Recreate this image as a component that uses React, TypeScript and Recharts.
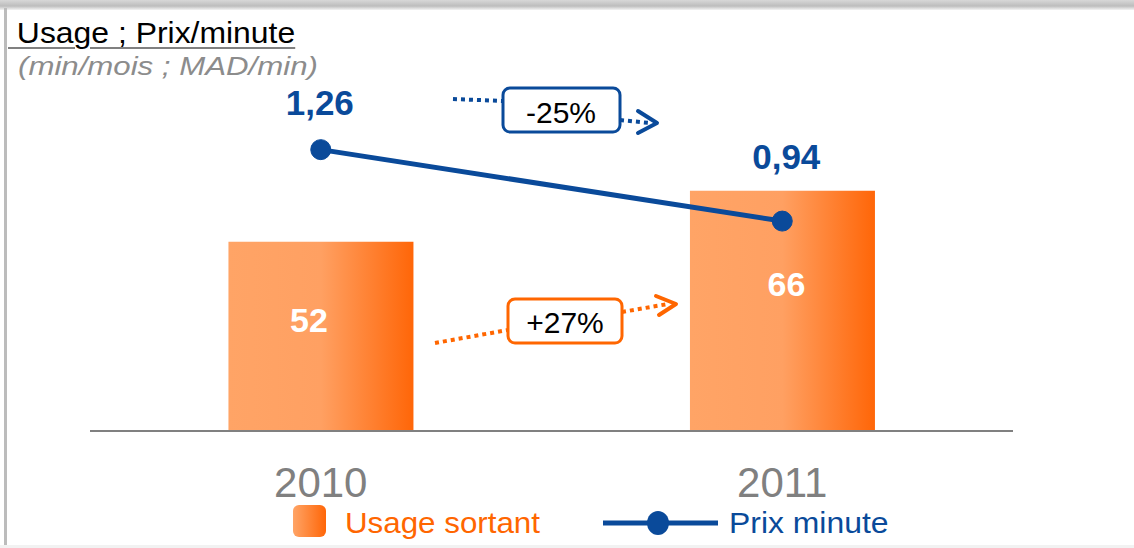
import React from "react"
import { Bar, ComposedChart, Line, XAxis, YAxis } from "recharts"

const years = ["2010", "2011"]
const usageSortant = [52, 66]
const prixMinute = [1.26, 0.94]
const prixLabels = ["1,26", "0,94"]

const rows = years.map((year, i) => ({ year, usage: usageSortant[i], prix: prixMinute[i], prixLabel: prixLabels[i] }))

const BLUE = "#0A4A9A"
const ORANGE = "#FF6600"
const FONT = "'Liberation Sans', Arial, sans-serif"

// small nudges so the value labels sit where the original slide put them
const barLabelNudge = [
  { dx: -12, dy: 90 },
  { dx: 4, dy: 105 },
]
const prixLabelNudge = [
  { dx: -1, dy: -35 },
  { dx: 4, dy: -52 },
]

function BarValue(props: any) {
  const { x, y, width, value, index } = props
  const n = barLabelNudge[index] || { dx: 0, dy: 0 }
  return (
    <text x={x + width / 2 + n.dx} y={y + n.dy} textAnchor="middle" fill="#fff" fontFamily={FONT} fontWeight="bold" fontSize={34}>
      {value}
    </text>
  )
}

function PrixValue(props: any) {
  const { x, y, index } = props
  const n = prixLabelNudge[index] || { dx: 0, dy: 0 }
  return (
    <text x={x + n.dx} y={y + n.dy} textAnchor="middle" fill={BLUE} fontFamily={FONT} fontWeight="bold" fontSize={35}>
      {prixLabels[index]}
    </text>
  )
}

function YearTick(props: any) {
  const { x, payload } = props
  return (
    <text x={x} y={497} textAnchor="middle" fill="#808080" fontFamily={FONT} fontSize={42}>
      {payload.value}
    </text>
  )
}

function Annotations() {
  return (
    <svg width={1134} height={548} style={{ position: "absolute", left: 0, top: 0, pointerEvents: "none" }}>
      {/* -25% */}
      <g stroke={BLUE} strokeWidth={4} fill="none">
        <line x1={453} y1={99} x2={503} y2={101} strokeDasharray="4 4" />
        <line x1={620} y1={120} x2={650} y2={123} strokeDasharray="4 4" />
        <polyline points="638,111 657,123 638,133" strokeLinecap="round" strokeLinejoin="round" />
        <rect x={503} y={88} width={117} height={44} rx={7} fill="#fff" strokeWidth={3} />
      </g>
      <text x={561} y={123} textAnchor="middle" fontFamily={FONT} fontSize={30} fill="#000">-25%</text>
      {/* +27% */}
      <g stroke={ORANGE} strokeWidth={4} fill="none">
        <line x1={435} y1={343} x2={508} y2={330} strokeDasharray="4 4" />
        <line x1={622} y1={312} x2={668} y2={304} strokeDasharray="4 4" />
        <polyline points="656,296 676,304 659,315" strokeLinecap="round" strokeLinejoin="round" />
        <rect x={508} y={299} width={114} height={44} rx={7} fill="#fff" strokeWidth={3} />
      </g>
      <text x={565} y={333} textAnchor="middle" fontFamily={FONT} fontSize={30} fill="#000">+27%</text>
    </svg>
  )
}

const stretched = (sx: number): React.CSSProperties => ({
  position: "absolute",
  whiteSpace: "pre",
  transform: `scaleX(${sx})`,
  transformOrigin: "left center",
})

export default function App() {
  return (
    <div style={{ position: "absolute", left: 0, top: 0, width: 1134, height: 548, background: "#fff", overflow: "hidden", fontFamily: FONT }}>
      <svg width={1134} height={548} style={{ position: "absolute", left: 0, top: 0 }}>
        <defs>
          <linearGradient id="topShade" x1="0" y1="0" x2="0" y2="1">
            <stop offset="0%" stopColor="#d8d8d8" />
            <stop offset="60%" stopColor="#bdbdbd" />
            <stop offset="100%" stopColor="#f4f4f4" />
          </linearGradient>
        </defs>
        <rect x={0} y={0} width={1134} height={10} fill="url(#topShade)" />
        <rect x={4} y={8} width={3} height={540} fill="#bcbcbc" />
        <rect x={0} y={545} width={1134} height={3} fill="#f2f2f2" />
      </svg>

      <div style={{ ...stretched(1.1), left: 8, top: 17, fontSize: 29, color: "#000", textDecoration: "underline", textDecorationColor: "#808080", textDecorationThickness: 2, textUnderlineOffset: 4 }}>
        {" Usage ; Prix/minute"}
      </div>
      <div style={{ ...stretched(1.2), left: 18, top: 51, fontSize: 26, color: "#8c8c8c", fontStyle: "italic" }}>
        (min/mois ; MAD/min)
      </div>

      <div style={{ position: "absolute", left: 0, top: 0 }}>
        <ComposedChart width={1134} height={548} data={rows} margin={{ top: 67, right: 121, bottom: 0, left: 90 }} barCategoryGap="30%">
          <defs>
            <linearGradient id="barGrad" x1="0" y1="0" x2="1" y2="0">
              <stop offset="0%" stopColor="#FFA466" />
              <stop offset="50%" stopColor="#FFA062" />
              <stop offset="100%" stopColor="#FF6608" />
            </linearGradient>
          </defs>
          <XAxis dataKey="year" height={117} tickLine={false} axisLine={{ stroke: "#808080", strokeWidth: 2 }} tick={<YearTick />} interval={0} />
          <YAxis yAxisId="usage" hide domain={[0, 100]} />
          <YAxis yAxisId="prix" hide orientation="right" domain={[0, 1.63]} />
          <Bar yAxisId="usage" dataKey="usage" fill="url(#barGrad)" isAnimationActive={false} label={<BarValue />} />
          <Line
            yAxisId="prix"
            dataKey="prix"
            stroke={BLUE}
            strokeWidth={5}
            dot={{ r: 10, fill: BLUE, stroke: BLUE, strokeWidth: 1 }}
            label={<PrixValue />}
            isAnimationActive={false}
          />
        </ComposedChart>
      </div>

      <Annotations />

      <div style={{ position: "absolute", left: 293, top: 505, width: 33, height: 32, borderRadius: 6, background: "linear-gradient(to right, #FFA466, #FF6608)" }} />
      <div style={{ ...stretched(1.08), left: 345, top: 506, fontSize: 29, color: ORANGE, lineHeight: "34px" }}>Usage sortant</div>
      <svg width={130} height={30} style={{ position: "absolute", left: 600, top: 508 }}>
        <line x1={3} y1={15} x2={118} y2={15} stroke={BLUE} strokeWidth={5} />
        <ellipse cx={58} cy={15} rx={11} ry={12} fill={BLUE} />
      </svg>
      <div style={{ ...stretched(1.1), left: 729, top: 506, fontSize: 29, color: BLUE, lineHeight: "34px" }}>Prix minute</div>
    </div>
  )
}
